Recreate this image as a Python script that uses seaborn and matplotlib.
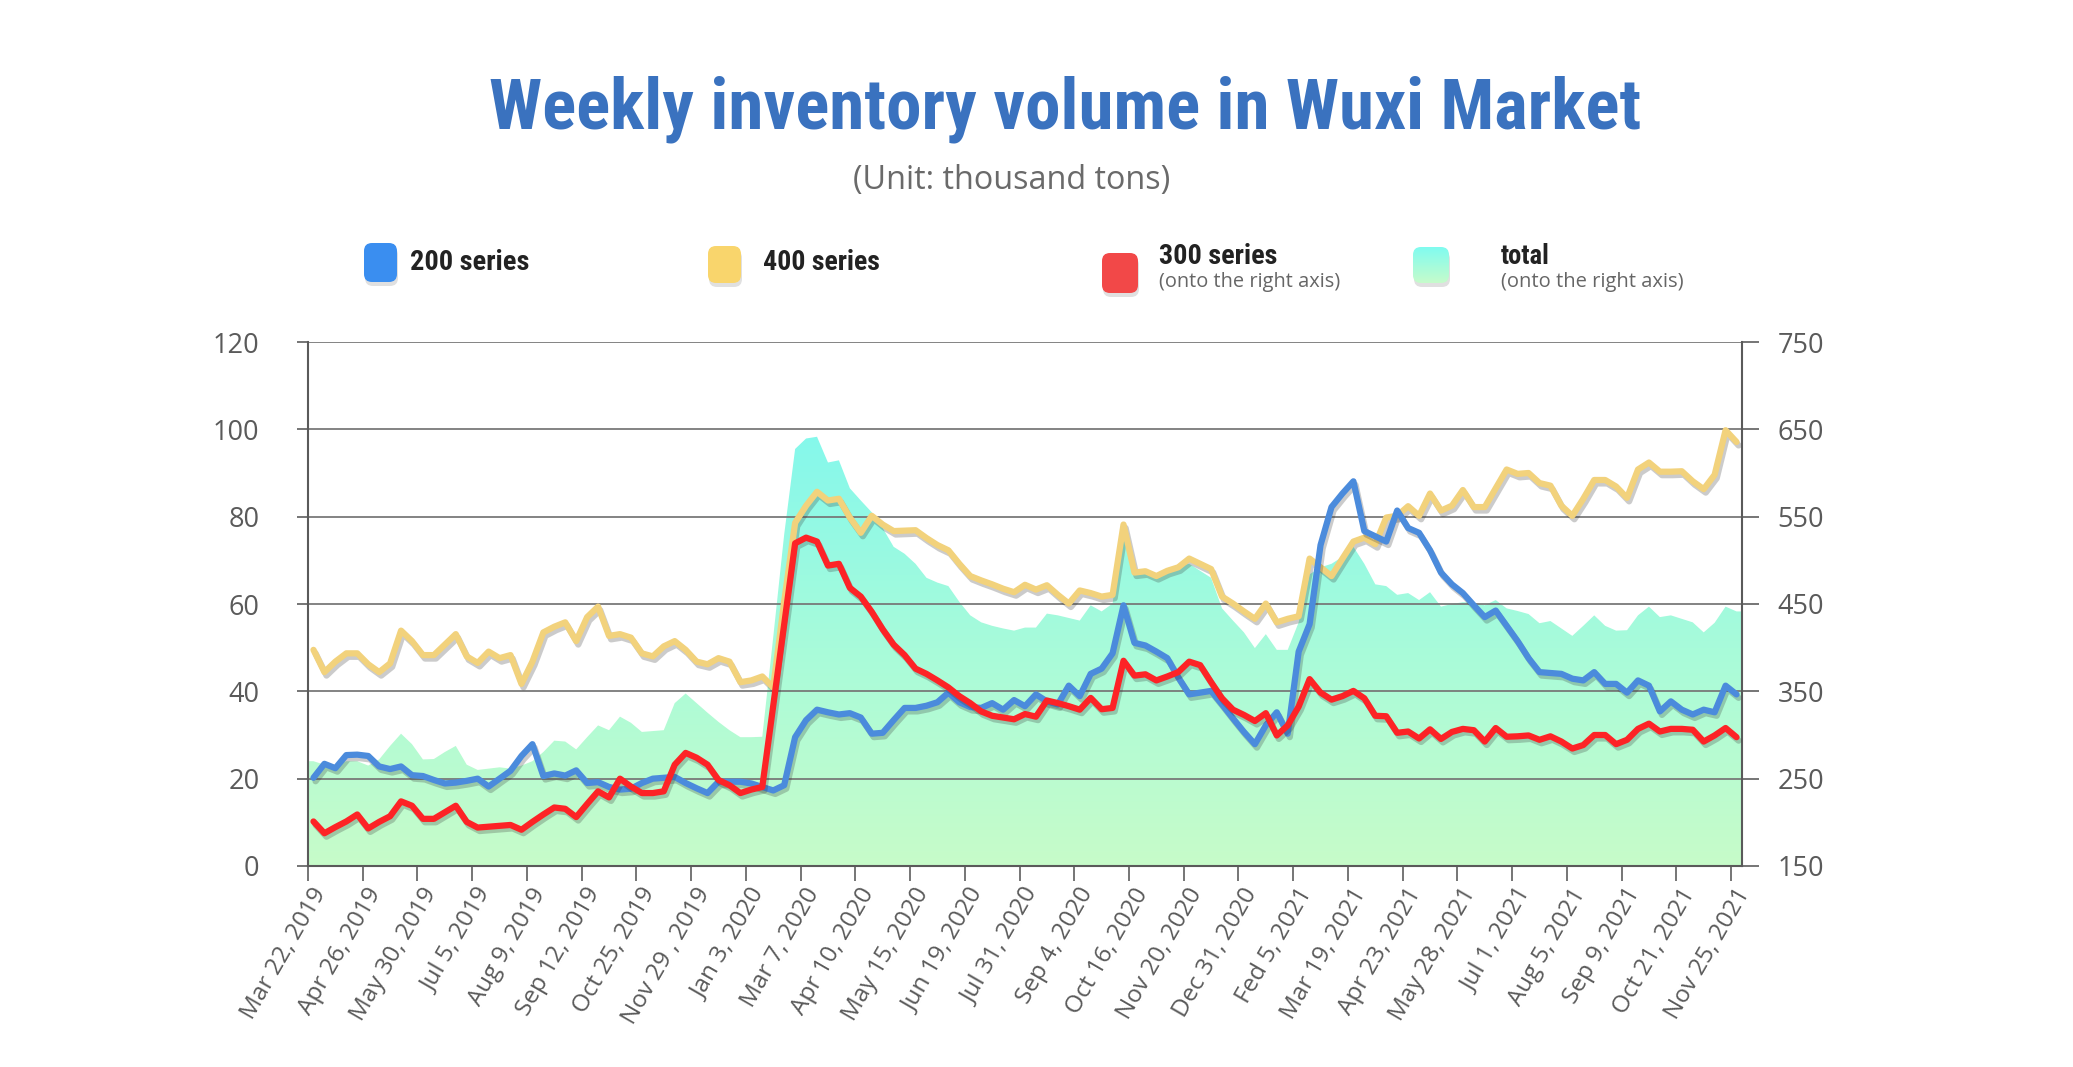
import numpy as np
import pandas as pd
import seaborn as sns
import matplotlib
matplotlib.use("Agg")
import matplotlib.pyplot as plt
import matplotlib.patheffects as pe
import matplotlib.transforms as mtrans
from matplotlib import font_manager as fm
from matplotlib.colors import LinearSegmentedColormap
from matplotlib.patches import FancyBboxPatch

# ---------------- data ----------------
tick_labels = ["Mar 22, 2019", "Apr 26, 2019", "May 30, 2019", "Jul 5, 2019", "Aug 9, 2019",
               "Sep 12, 2019", "Oct 25, 2019", "Nov 29 , 2019", "Jan 3, 2020", "Mar 7, 2020",
               "Apr 10, 2020", "May 15, 2020", "Jun 19, 2020", "Jul 31, 2020", "Sep 4, 2020",
               "Oct 16, 2020", "Nov 20, 2020", "Dec 31, 2020", "Fed 5, 2021", "Mar 19, 2021",
               "Apr 23, 2021", "May 28, 2021", "Jul 1, 2021", "Aug 5, 2021", "Sep 9, 2021",
               "Oct 21, 2021", "Nov 25, 2021"]

series_200 = [20.2, 23.4, 22.4, 25.4, 25.5, 25.2, 22.8, 22.2, 22.8, 20.8,
              20.6, 19.7, 18.9, 19.1, 19.5, 20.0, 18.2, 20.0, 21.8, 25.2,
              27.9, 20.6, 21.2, 20.7, 21.9, 19.0, 19.2, 18.1, 17.5, 17.7,
              19.0, 20.0, 20.2, 20.4, 19.0, 17.8, 16.7, 19.3, 19.3, 19.3,
              18.9, 18.1, 17.3, 18.5, 29.5, 33.4, 35.8, 35.2, 34.7, 35.0,
              34.0, 30.3, 30.5, 33.4, 36.2, 36.2, 36.7, 37.5, 39.7, 37.5,
              36.4, 36.2, 37.3, 35.8, 38.0, 36.6, 39.3, 37.7, 37.0, 41.3,
              38.9, 44.0, 45.2, 48.7, 59.7, 51.1, 50.5, 49.1, 47.6, 43.2,
              39.3, 39.7, 40.1, 37.0, 33.8, 30.7, 27.9, 32.2, 35.2, 30.3,
              49.1, 55.4, 73.5, 82.2, 85.3, 88.1, 76.7, 75.5, 74.3, 81.4,
              77.4, 76.3, 72.3, 67.2, 64.5, 62.5, 59.7, 57.0, 58.5, 55.0,
              51.5, 47.6, 44.4, 44.2, 44.0, 42.9, 42.5, 44.4, 41.7, 41.7,
              39.7, 42.5, 41.3, 35.4, 37.7, 35.8, 34.7, 35.8, 35.2, 41.3,
              39.3]

series_400 = [49.5, 44.4, 46.8, 48.7, 48.7, 46.2, 44.4, 46.4, 53.9, 51.5,
              48.3, 48.3, 50.7, 53.1, 48.0, 46.5, 49.1, 47.6, 48.3, 41.7,
              46.8, 53.5, 54.8, 55.8, 51.5, 57.0, 59.4, 52.7, 53.1, 52.3,
              48.7, 48.0, 50.3, 51.5, 49.5, 46.8, 46.2, 47.6, 46.8, 42.1,
              42.5, 43.4, 40.9, 60.5, 78.6, 82.5, 85.7, 83.7, 84.1, 79.8,
              76.3, 80.2, 78.2, 76.7, 76.8, 76.9, 75.1, 73.5, 72.3, 69.2,
              66.4, 65.4, 64.5, 63.5, 62.7, 64.4, 63.3, 64.3, 62.1, 60.1,
              63.1, 62.5, 61.7, 62.1, 78.2, 67.2, 67.5, 66.4, 67.6, 68.4,
              70.4, 69.2, 68.0, 61.7, 60.1, 58.3, 56.6, 60.1, 55.8, 56.6,
              57.2, 70.4, 68.4, 66.4, 70.4, 74.3, 75.2, 73.7, 79.8, 80.2,
              82.4, 80.2, 85.3, 81.4, 82.5, 86.1, 82.2, 82.2, 86.5, 90.8,
              89.8, 90.0, 87.7, 87.1, 82.5, 80.2, 84.1, 88.4, 88.4, 86.9,
              84.3, 90.8, 92.4, 90.3, 90.3, 90.4, 88.1, 86.3, 89.6, 99.8,
              97.1]

series_300 = [201, 187.5, 194.5, 201, 209, 193, 200.5, 207, 224, 219,
              204, 204, 211.5, 219, 200.5, 194, 195, 196, 197, 191.5,
              200.5, 209, 217, 215.5, 206, 221, 235.5, 228.5, 250, 241,
              233.5, 233.5, 235.5, 266, 279.5, 274, 266, 248.5, 242.5, 233.5,
              237.5, 240.5, 333.5, 427, 519.5, 526, 521.5, 494, 496, 468.5,
              458.5, 441, 421, 403.5, 391.5, 376, 370, 362.5, 354.5, 344.5,
              336.5, 327, 322, 320, 318, 324, 321, 339.5, 336.5, 333,
              329, 342.5, 329.5, 331, 385, 368, 369.5, 362.5, 367, 372,
              384, 380, 360.5, 342, 329, 323, 316, 325, 299.5, 311,
              332.5, 364, 348.5, 340.5, 344.5, 350.5, 342, 322, 321.5, 302.5,
              304, 296, 306.5, 295.5, 303.5, 307, 305.5, 292.5, 308, 298,
              298.5, 299.5, 294.5, 298.5, 292.5, 284.5, 288.5, 300, 300, 289.5,
              294.5, 307, 313, 304, 307, 307, 306, 292.5, 299.5, 308,
              297.5]

total = [270, 266, 264, 270, 270, 265, 272, 287.5, 301.5, 289.5,
         272, 272.5, 280.5, 287.5, 266, 260, 261.5, 263, 261.5, 265,
         270, 280.5, 293.5, 292.5, 283.5, 297.5, 311, 305.5, 321, 314,
         303.5, 304.5, 305.5, 336.5, 347.5, 336.5, 325.5, 315, 305.5, 297.5,
         297.5, 298, 412, 529.5, 627.5, 639.5, 641.5, 612, 614.5, 582.5,
         568.5, 555, 537, 515.5, 507.5, 496, 480, 474.5, 470.5, 452.5,
         437, 429, 425, 422, 419.5, 423, 423, 439, 437, 434,
         431, 448.5, 441.5, 450.5, 540, 486, 488, 483.5, 488, 493,
         496, 488, 480, 445, 431, 417.5, 399.5, 415.5, 397.5, 397.5,
         429, 484, 492, 496, 504, 515.5, 496, 472.5, 470.5, 460.5,
         462.5, 454.5, 463.5, 447, 450, 452, 451.5, 448.5, 454.5, 445,
         442, 438.5, 428, 430.5, 422, 413.5, 425, 437, 425, 419.5,
         420, 437, 447, 435, 437, 433, 429, 417.5, 428.5, 447,
         441.5]

left_ticks = [0, 20, 40, 60, 80, 100, 120]
right_ticks = [150, 250, 350, 450, 550, 650, 750]

# ---------------- style ----------------
sns.set_theme(style="white")
names = {f.name for f in fm.fontManager.ttflist}


def pick(*cands):
    for c in cands:
        if c in names:
            return c
    return "DejaVu Sans"


BASE = pick("Open Sans", "Noto Sans", "Lato", "DejaVu Sans")
NARROW = pick("Liberation Sans Narrow", "Roboto Condensed", "Open Sans Condensed", BASE)
plt.rcParams["font.family"] = [BASE, "DejaVu Sans"]

C_BLUE, C_YEL, C_RED = "#4b8bdc", "#f2d27c", "#fd2326"
GRAY_TXT = "#5a5a5a"

W, H = 2073, 1067
fig = plt.figure(figsize=(W / 100, H / 100), dpi=100)
fig.patch.set_facecolor("white")
L, R, T, B = 308, 1742, 342, 866
rect = [L / W, 1 - B / H, (R - L) / W, (B - T) / H]
ax = fig.add_axes(rect)
ax_area = ax.twinx()
ax_red = ax.twinx()
ax_area.set_zorder(0)
ax.set_zorder(1)
ax_red.set_zorder(2)
ax.patch.set_visible(False)
ax_red.patch.set_visible(False)

n = len(series_200)
df = pd.DataFrame({"week": np.arange(n), "s200": series_200, "s400": series_400,
                   "s300": series_300, "total": total})

# ---------------- total area with vertical gradient ----------------
xa = np.r_[-0.5, df["week"].to_numpy(), n - 0.5]
ya = np.r_[total[0], total, total[-1]]
poly = ax_area.fill_between(xa, ya, 150, facecolor="none", edgecolor="none")
cmap = LinearSegmentedColormap.from_list("tg", ["#c7fcc9", "#a8fbda", "#84f8ec"])
grad = np.linspace(0, 1, 256).reshape(-1, 1)
im = ax_area.imshow(grad, extent=[-0.5, n - 0.5, 150, 650], origin="lower",
                    aspect="auto", cmap=cmap, zorder=1, interpolation="bilinear")
im.set_clip_path(poly.get_paths()[0], transform=ax_area.transData)
ax_area.set_ylim(150, 750)
ax_area.set_yticks(right_ticks)
ax_area.set_axisbelow(False)
ax_area.yaxis.grid(True, color="#767676", lw=1.4, alpha=0.9)
ax_area.tick_params(axis="y", right=False, left=False, labelright=False, labelleft=False)
for s in ax_area.spines.values():
    s.set_visible(False)

# ---------------- lines ----------------
def shadow():
    return [pe.SimpleLineShadow(offset=(1.5, -2.5), shadow_color="#333333", alpha=0.25), pe.Normal()]

sns.lineplot(data=df, x="week", y="s400", ax=ax, color=C_YEL, lw=4.5, sort=False,
             path_effects=shadow(), solid_joinstyle="round", solid_capstyle="round", zorder=3)
sns.lineplot(data=df, x="week", y="s200", ax=ax, color=C_BLUE, lw=4.5, sort=False,
             path_effects=shadow(), solid_joinstyle="round", solid_capstyle="round", zorder=4)
sns.lineplot(data=df, x="week", y="s300", ax=ax_red, color=C_RED, lw=4.5, sort=False,
             path_effects=shadow(), solid_joinstyle="round", solid_capstyle="round", zorder=5)

for a in (ax, ax_red, ax_area):
    a.set_xlabel("")
    a.set_ylabel("")

ax.set_xlim(-0.5, n - 0.5)
ax.set_ylim(0, 120)
ax_red.set_ylim(150, 750)

# left axis
ax.set_yticks(left_ticks)
ax.set_yticklabels([str(v) for v in left_ticks])
ax.tick_params(axis="y", left=True, right=False, length=8, width=1.3, color="#6a6a6a",
               pad=27, labelsize=19.5, labelcolor=GRAY_TXT)
# right axis
ax_red.set_yticks(right_ticks)
ax_red.set_yticklabels([str(v) for v in right_ticks])
ax_red.tick_params(axis="y", right=True, left=False, labelright=True, labelleft=False,
                   length=12.5, width=1.3, color="#6a6a6a", pad=13, labelsize=19.5,
                   labelcolor=GRAY_TXT)

# x axis: ticks at category boundaries, labels at category centers
ax.set_xticks(np.arange(0, n, 5) - 0.5)
ax.set_xticklabels([""] * len(np.arange(0, n, 5)))
ax.set_xticks(np.arange(0, n, 5), minor=True)
ax.set_xticklabels(tick_labels, minor=True, rotation=60, ha="right", va="center",
                   rotation_mode="anchor", fontsize=17.5, color=GRAY_TXT)
ax.tick_params(axis="x", which="major", bottom=True, length=11, width=1.3,
               color="#6a6a6a", direction="out")
ax.tick_params(axis="x", which="minor", bottom=True, length=0, pad=17)
off = mtrans.ScaledTranslation(8 / 100, 0, fig.dpi_scale_trans)
for lab in ax.get_xticklabels(minor=True):
    lab.set_transform(lab.get_transform() + off)

for k, s in ax.spines.items():
    s.set_visible(k in ("left", "bottom"))
    s.set_color("#5a5a5a")
    s.set_linewidth(1.5)
for k, s in ax_red.spines.items():
    s.set_visible(k == "right")
    s.set_color("#5a5a5a")
    s.set_linewidth(1.5)

# ---------------- titles ----------------
renderer = fig.canvas.get_renderer()


def fit(t, target_w):
    bb = t.get_window_extent(renderer)
    if bb.width > 0:
        t.set_fontsize(t.get_fontsize() * target_w / bb.width)


title = fig.text(1065 / W, 1 - 128 / H, "Weekly inventory volume in Wuxi Market",
                 ha="center", va="baseline", fontsize=44, fontweight="bold",
                 color="#3a72bf", family=[NARROW, "DejaVu Sans"])
fit(title, 1151)
sub = fig.text(1012 / W, 1 - 180 / H, "(Unit: thousand tons)", ha="center", va="center",
               fontsize=17, color="#6a6a6a")
fit(sub, 318)

# ---------------- legend ----------------
def legend_box(x, ytop, w, h, color=None, grad_colors=None):
    sh = FancyBboxPatch((x + 1, H - ytop - h - 4), w, h, boxstyle="round,pad=0,rounding_size=8",
                        transform=mtrans.IdentityTransform(), facecolor="#9a9a9a",
                        edgecolor="none", alpha=0.3, zorder=1)
    fig.patches.append(sh)
    if grad_colors is None:
        p = FancyBboxPatch((x, H - ytop - h), w, h, boxstyle="round,pad=0,rounding_size=8",
                           transform=mtrans.IdentityTransform(), facecolor=color,
                           edgecolor="none", zorder=2)
        fig.patches.append(p)
    else:
        lax = fig.add_axes([x / W, (H - ytop - h) / H, w / W, h / H])
        lax.set_zorder(5)
        lax.set_axis_off()
        lax.patch.set_visible(False)
        gcm = LinearSegmentedColormap.from_list("lg", grad_colors)
        g = lax.imshow(np.linspace(0, 1, 64).reshape(-1, 1), extent=[0, 1, 0, 1],
                       origin="upper", aspect="auto", cmap=gcm, interpolation="bilinear")
        lax.set_xlim(0, 1)
        lax.set_ylim(0, 1)
        clip = FancyBboxPatch((0.0, 0.0), 1, 1, boxstyle="round,pad=0,rounding_size=0.22",
                              transform=lax.transAxes, facecolor="none", edgecolor="none")
        lax.add_patch(clip)
        g.set_clip_path(clip)


legend_box(364, 243, 33, 39, color="#3a8ef0")
legend_box(708, 246, 33, 37, color="#f9d56c")
legend_box(1102, 253, 36, 40, color="#f24848")
legend_box(1413, 247, 36, 36, grad_colors=["#80fbf0", "#c6fccb"])


def ltxt(x, y, s, w, bold=True, size=16, color="#222222"):
    t = fig.text(x / W, 1 - y / H, s, ha="left", va="center", fontsize=size,
                 fontweight="bold" if bold else "normal", color=color,
                 family=[NARROW, "DejaVu Sans"] if bold else [BASE, "DejaVu Sans"])
    fit(t, w)
    return t


ltxt(410, 263, "200 series", 119)
ltxt(763, 263, "400 series", 117)
ltxt(1159, 257, "300 series", 118)
ltxt(1159, 282, "(onto the right axis)", 180, bold=False, size=12, color="#666666")
ltxt(1501, 257, "total", 49)
ltxt(1501, 282, "(onto the right axis)", 182, bold=False, size=12, color="#666666")

fig.savefig("out.png", dpi=100, facecolor="white")
